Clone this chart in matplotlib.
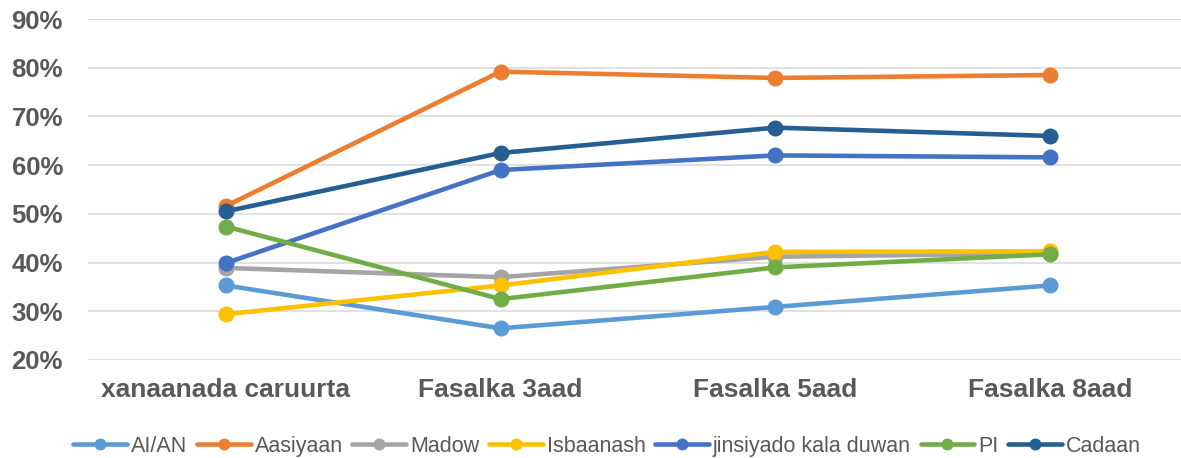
import matplotlib
matplotlib.use('Agg')
import matplotlib.pyplot as plt
from matplotlib.ticker import PercentFormatter

# データ
categories = ['xanaanada caruurta', 'Fasalka 3aad', 'Fasalka 5aad', 'Fasalka 8aad']
series_names = ['AI/AN', 'Aasiyaan', 'Madow', 'Isbaanash', 'jinsiyado kala duwan', 'PI', 'Cadaan']
ai_an = [35.3, 26.5, 30.9, 35.3]
aasiyaan = [51.6, 79.2, 77.9, 78.5]
madow = [38.9, 37.0, 41.2, 41.9]
isbaanash = [29.4, 35.3, 42.2, 42.3]
kala_duwan = [39.9, 59.0, 62.0, 61.6]
pi = [47.4, 32.5, 39.0, 41.7]
cadaan = [50.5, 62.5, 67.7, 66.0]
colors = ['#5B9BD5', '#ED7D31', '#A5A5A5', '#FFC000', '#4472C4', '#70AD47', '#255E91']

all_series = [ai_an, aasiyaan, madow, isbaanash, kala_duwan, pi, cadaan]

fig = plt.figure(figsize=(11.81, 4.58), dpi=100)
ax = fig.add_axes([0.0745, 0.214, 0.9255, 0.7445])

x = list(range(len(categories)))
for name, vals, c in zip(series_names, all_series, colors):
    ax.plot(x, [v / 100 for v in vals], color=c, linewidth=3.3, marker='o',
            markersize=10.5, label=name, solid_capstyle='round')

ax.set_ylim(0.2, 0.9)
ax.set_xlim(-0.502, 3.477)
ax.yaxis.set_major_formatter(PercentFormatter(1.0, decimals=0))
ax.set_yticks([0.2, 0.3, 0.4, 0.5, 0.6, 0.7, 0.8, 0.9])
ax.set_xticks(x)
ax.set_xticklabels(categories)
ax.grid(axis='y', color='#D9D9D9', linewidth=1.1)
ax.set_axisbelow(True)
for s in ax.spines.values():
    s.set_visible(False)
ax.tick_params(length=0, labelcolor='#595959')
ax.tick_params(axis='y', pad=18)
ax.tick_params(axis='x', pad=13)
for lab in ax.get_xticklabels():
    lab.set_fontfamily('Liberation Sans')
    lab.set_fontweight('bold')
    lab.set_fontsize(19)
for lab in ax.get_yticklabels():
    lab.set_fontfamily('Liberation Sans')
    lab.set_fontweight('bold')
    lab.set_fontsize(18.5)

leg = fig.legend(loc='center', bbox_to_anchor=(0.514, 0.026), ncol=7, frameon=False,
                 prop={'family': ['Liberation Sans Narrow', 'Liberation Sans'], 'size': 15.5},
                 handlelength=2.5, handletextpad=0.18, columnspacing=0.45, markerscale=0.72)
for t in leg.get_texts():
    t.set_color('#595959')

fig.savefig('out.png', dpi=100)
